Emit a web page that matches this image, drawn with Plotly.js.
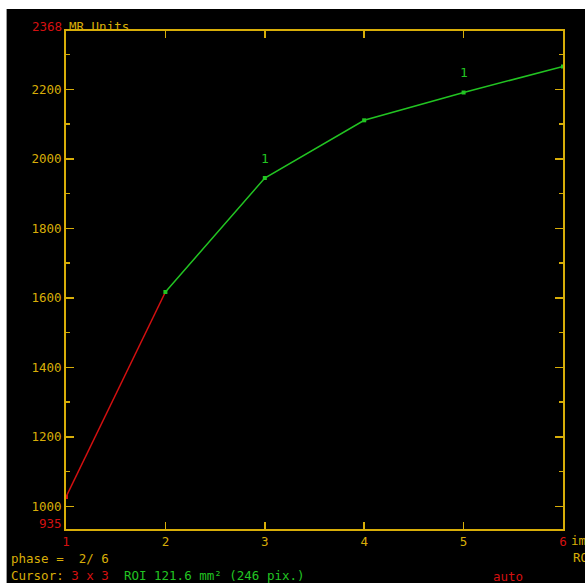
<!DOCTYPE html>
<html>
<head>
<meta charset="utf-8">
<script src="https://cdn.plot.ly/plotly-3.0.1.min.js"></script>
<style>
  html, body { margin: 0; padding: 0; background: #ffffff; width: 585px; height: 583px; overflow: hidden; }
  #chart { position: absolute; left: 6px; top: 9px; width: 578px; height: 574px; border-left: 1px solid #9a9a9a; background: #000; }
</style>
</head>
<body>
<div id="chart"></div>
<script>
// ---- data ----
const phases = [1, 2, 3, 4, 5, 6];
const values = [1027, 1617, 1945, 2111, 2191, 2266];
const yRange = [935, 2368];
const xTickVals = [1, 2, 3, 4, 5, 6];
const yTickVals = [1000, 1200, 1400, 1600, 1800, 2000, 2200];
const labelledPhases = [3, 5];
const unitLabel = "MR Units";
const phaseText = "phase =  2/ 6";
const cursorPrefix = "Cursor: ";
const cursorSize = "3 x 3";
const roiText = "ROI 121.6 mm² (246 pix.)";
const autoText = "auto";

const YEL = "#d8ae08";
const RED = "#d41010";
const GRN = "#22c422";
const FONT = "DejaVu Sans Mono, Liberation Mono, monospace";
const FS = 12.5;

// plot area pixels inside div
const W = 578, H = 574;
const mL = 59, mR = 22, mT = 22, mB = 54;
const plotW = W - mL - mR, plotH = H - mT - mB;
function px(X) { return (X - 7 - mL) / plotW; }
function py(Y) { return (H - mB - (Y - 9)) / plotH; }

const ticktext = xTickVals.map((v, i) =>
  (i === 0 || i === xTickVals.length - 1)
    ? `<span style="color:${RED}">${v}</span>` : String(v));

const traces = [
  {
    x: phases.slice(0, 2), y: values.slice(0, 2),
    mode: "lines", line: { color: RED, width: 1.5 }, hoverinfo: "skip", cliponaxis: false
  },
  {
    x: phases.slice(1), y: values.slice(1),
    mode: "lines+markers", line: { color: GRN, width: 1.5 },
    marker: { symbol: "square", size: 4, color: GRN }, hoverinfo: "skip"
  },
  {
    x: phases.slice(0, 1), y: values.slice(0, 1),
    mode: "markers", marker: { symbol: "square", size: 4, color: RED }, hoverinfo: "skip", cliponaxis: false
  }
];

const annotations = [];
labelledPhases.forEach(p => {
  const i = phases.indexOf(p);
  annotations.push({
    x: p, y: values[i], xref: "x", yref: "y", text: "1", showarrow: false,
    yshift: 20, font: { family: FONT, size: 13, color: GRN }
  });
});
annotations.push(
  { x: px(64), y: py(26), xref: "paper", yref: "paper", xanchor: "right", yanchor: "middle",
    text: String(yRange[1]), showarrow: false, font: { family: FONT, size: FS, color: RED } },
  { x: px(67), y: py(26), xref: "paper", yref: "paper", xanchor: "left", yanchor: "middle",
    text: unitLabel, showarrow: false, font: { family: FONT, size: FS, color: YEL } },
  { x: px(64), y: py(523), xref: "paper", yref: "paper", xanchor: "right", yanchor: "middle",
    text: String(yRange[0]), showarrow: false, font: { family: FONT, size: FS, color: RED } },
  { x: px(569), y: py(540), xref: "paper", yref: "paper", xanchor: "left", yanchor: "middle",
    text: "im", showarrow: false, font: { family: FONT, size: FS, color: YEL } },
  { x: px(571), y: py(557), xref: "paper", yref: "paper", xanchor: "left", yanchor: "middle",
    text: "RO", showarrow: false, font: { family: FONT, size: FS, color: YEL } },
  { x: px(9), y: py(558), xref: "paper", yref: "paper", xanchor: "left", yanchor: "middle",
    text: phaseText.replace(/ /g, "&nbsp;"), showarrow: false, font: { family: FONT, size: FS, color: YEL } },
  { x: px(9), y: py(575), xref: "paper", yref: "paper", xanchor: "left", yanchor: "middle",
    text: `${cursorPrefix.replace(/ /g, "&nbsp;")}<span style="color:${RED}">${cursorSize.replace(/ /g, "&nbsp;")}</span>&nbsp;&nbsp;<span style="color:${GRN}">${roiText.replace(/ /g, "&nbsp;")}</span>`,
    showarrow: false, font: { family: FONT, size: FS, color: YEL } },
  { x: px(491), y: py(576), xref: "paper", yref: "paper", xanchor: "left", yanchor: "middle",
    text: autoText, showarrow: false, font: { family: FONT, size: FS, color: RED } }
);

const layout = {
  width: W, height: H,
  margin: { l: mL, r: mR, t: mT, b: mB, pad: 0 },
  paper_bgcolor: "#000000", plot_bgcolor: "#000000",
  showlegend: false,
  font: { family: FONT, size: FS, color: YEL },
  xaxis: {
    range: [phases[0], phases[phases.length - 1]],
    tickvals: xTickVals, ticktext: ticktext,
    ticks: "inside", ticklen: 7, tickwidth: 1.5, tickcolor: YEL,
    showline: true, linecolor: YEL, linewidth: 2, mirror: "ticks",
    showgrid: false, zeroline: false,
    tickfont: { family: FONT, size: FS, color: YEL },
    ticklabelstandoff: 0, fixedrange: true
  },
  yaxis: {
    range: yRange,
    tickvals: yTickVals,
    ticks: "inside", ticklen: 8, tickwidth: 1.5, tickcolor: YEL,
    minor: { dtick: 100, tick0: 0, ticks: "inside", ticklen: 4, tickwidth: 1.5, tickcolor: YEL, showgrid: false },
    showline: true, linecolor: YEL, linewidth: 2, mirror: "ticks",
    showgrid: false, zeroline: false,
    tickfont: { family: FONT, size: FS, color: YEL },
    ticklabelstandoff: 0, fixedrange: true
  },
  annotations: annotations
};

Plotly.newPlot("chart", traces, layout, { staticPlot: true, displayModeBar: false });
</script>
</body>
</html>
